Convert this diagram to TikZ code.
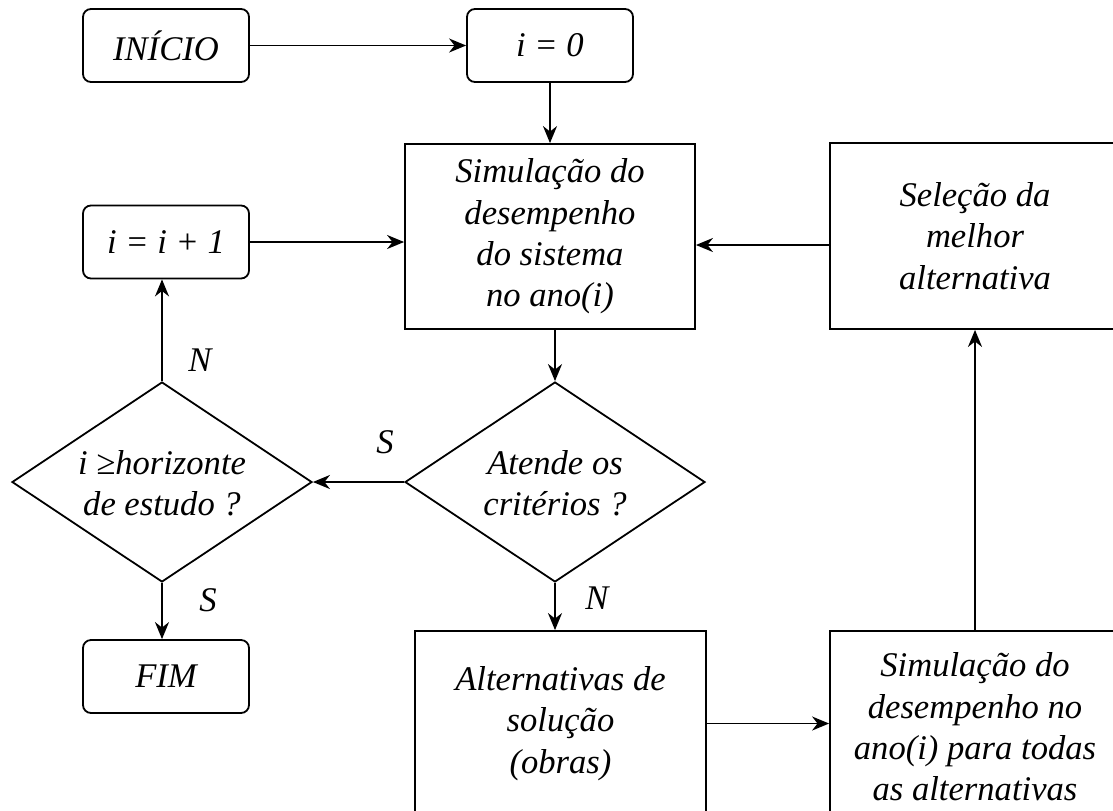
\documentclass[tikz,border=0pt]{standalone}
\usepackage{fontspec}
\setmainfont{LiberationSerif}[Extension=.ttf, UprightFont=*-Regular, ItalicFont=*-Italic, BoldFont=*-Bold]
\usetikzlibrary{arrows.meta,shapes.geometric}
\tikzset{
  every node/.style={font=\fontsize{17.3pt}{20.7pt}\selectfont\itshape},
  term/.style={draw, rounded corners=4pt, line width=0.9pt, minimum width=83pt, minimum height=36.5pt, inner sep=0pt},
  proc/.style={draw, line width=0.9pt, inner sep=0pt, align=center},
  dec/.style={draw, diamond, line width=0.9pt, minimum width=150pt, minimum height=100pt, inner sep=0pt},
  txt/.style={align=center, inner sep=0pt},
  conn/.style={line width=0.9pt, -{Stealth[length=8.5pt, width=7pt, inset=2.7pt]}},
  lab/.style={inner sep=0pt}
}
\begin{document}
\begin{tikzpicture}[x=0.5pt, y=-0.5pt]
\clip (0,0) rectangle (1113,810);
\fill[white] (0,0) rectangle (1113,810);
% terminal / small boxes
\node[term] (inicio) at (166,45.5) {INÍCIO};
\node[term] (i0) at (550,45.5) {i = 0};
\node[term] (inc) at (166,242) {i = i + 1};
\node[term] (fim) at (166,676.5) {FIM};
% process boxes
\node[proc, minimum width=145pt, minimum height=92.5pt] (sim) at (550,236.5) {Simulação do\\ desempenho\\ do sistema\\ no ano(i)};
\node[proc, minimum width=145pt, minimum height=93pt] (sel) at (975,236) {Seleção da\\ melhor\\ alternativa};
\node[proc, minimum width=145.5pt, minimum height=92.5pt] (alt) at (560.5,723.5) {Alternativas de\\ solução\\ (obras)};
\node[proc, minimum width=145pt, minimum height=96pt] (sim2) at (975,727) {Simulação do\\ desempenho no\\ ano(i) para todas\\ as alternativas};
% decisions
\node[dec] (d1) at (555,482) {};
\node[txt] (d1t) at (555,483) {Atende os\\ critérios ?};
\node[dec] (d2) at (162,482) {};
\node[txt] (d2t) at (162,483) {i ≥horizonte\\ de estudo ?};
% connectors
\draw[conn] (inicio.east) -- (i0.west);
\draw[conn] (i0.south) -- (sim.north);
\draw[conn] (inc.east) -- (inc.east -| sim.west);
\draw[conn] ([yshift=-4.5pt]sel.west) -- ([yshift=-4.5pt]sel.west -| sim.east);
\draw[conn] (sim.south -| d1.north) -- (d1.north);
\draw[conn] (d1.west) -- (d2.east);
\draw[conn] (d2.north) -- (d2.north |- inc.south);
\draw[conn] (d2.south) -- (d2.south |- fim.north);
\draw[conn] (d1.south) -- (d1.south |- alt.north);
\draw[conn] (alt.east) -- (alt.east -| sim2.west);
\draw[conn] (sim2.north) -- (sel.south);
% labels
\node[lab] (lS1) at (385,442) {S};
\node[lab] (lN1) at (200,360) {N};
\node[lab] (lS2) at (208,600) {S};
\node[lab] (lN2) at (597,598) {N};
\end{tikzpicture}
\end{document}
